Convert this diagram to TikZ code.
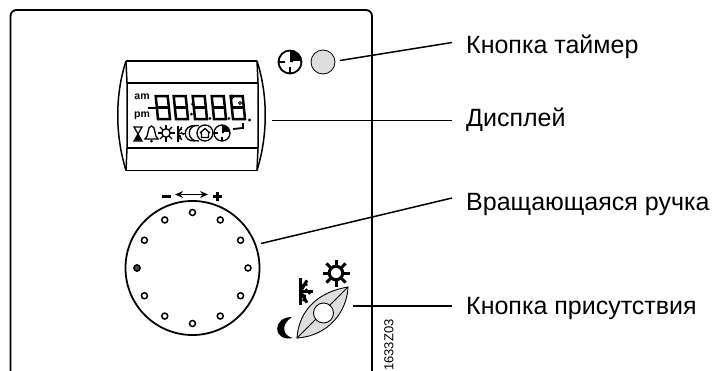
\documentclass[tikz,border=0pt]{standalone}
\usepackage{fontspec}
\setmainfont{Liberation Sans}
\usetikzlibrary{arrows.meta,calc}
\definecolor{btngrey}{gray}{0.87}
\tikzset{
  frameline/.style={line width=1.8pt,line cap=round},
  leader/.style={line width=1.5pt},
  label/.style={anchor=west,inner sep=0pt,font=\fontsize{25}{27}\selectfont},
  seg/.style={line width=2.5pt,line cap=butt},
  knobdot/.style={circle,draw,line width=1.5pt,minimum size=6pt,inner sep=0pt,fill=white},
  iconline/.style={line width=1.3pt},
  dispedge/.style={line width=1.5pt}
}
\newcommand{\segdigit}[2]{%
 \begin{scope}[shift={(#1,#2)},xslant=-.1]
  \draw[seg] (0,0) rectangle (12,-23);
  \draw[seg] (0,-11.5) -- (12,-11.5);
 \end{scope}}
\newcommand{\sunicon}[4]{%
 \begin{scope}[shift={(#1,#2)}]
  \draw[line width=#4] (0,0) circle (#3*.5);
  \foreach \a in {0,45,...,315} \draw[line width=#4] (\a:#3*.5) -- (\a:#3);
 \end{scope}}
\newcommand{\snowicon}[4]{%
 \begin{scope}[shift={(#1,#2)}]
  \draw[line width=#4] (0,-#3) -- (0,#3);
  \foreach \a in {-60,0,60} {\draw[line width=#4] (0,0) -- (\a:#3*.95);}
  \foreach \a in {-60,0,60} {\draw[line width=#4*.8] (\a:#3*.55) ++(\a+45:#3*.25) -- ++(\a+225:#3*.5);}
 \end{scope}}
\newcommand{\clockicon}[4]{%
 \begin{scope}[shift={(#1,#2)}]
  \fill (0,0) -- (0,-#3) .. controls (#3*.55,-#3) and (#3,-#3*.55) .. (#3,0) -- cycle;
  \draw[line width=#4] (0,0) circle (#3);
  \draw[line width=#4] (-#3,0) -- (-#3*.45,0) (0,#3) -- (0,#3*.45);
  \draw[line width=#4,white] (#3*.25,0) -- (#3*.85,0);
 \end{scope}}
\begin{document}
\begin{tikzpicture}[x=1pt,y=-1pt]
\useasboundingbox (0,0) rectangle (713,370);
% housing
\draw[frameline,rounded corners=6pt] (10.5,375) -- (10.5,10) -- (372,10) -- (372,375);
% display
\draw[dispedge] (126,61) -- (257,61) (126,170.5) -- (257,170.5);
\draw[dispedge] (126,61) .. controls (115,95) and (115,135) .. (126,170.5);
\draw[dispedge] (257,61) .. controls (268,95) and (268,135) .. (257,170.5);
\draw[dispedge] (126,61) -- (127,83) -- (127,148) -- (126,170.5);
\draw[dispedge] (257,61) -- (258,83) -- (258,148) -- (257,170.5);
\draw[dispedge] (127,83) -- (258,83) (127,148) -- (258,148);
% readout
\node[inner sep=0pt,font=\fontsize{10.5}{10}\selectfont\bfseries] (am) at (142,97) {am};
\node[inner sep=0pt,font=\fontsize{10.5}{10}\selectfont\bfseries] (pm) at (142,116) {pm};
\draw[seg] (148,108) -- (157,108);
\segdigit{158}{119}
\segdigit{176}{119}
\segdigit{195}{119}
\segdigit{214}{119}
\segdigit{233}{119}
\fill (192.5,104) circle (1.5) (191.5,114) circle (1.5);
\fill (209.8,118.5) circle (1.5) (228.8,118.5) circle (1.5) (249.5,120) circle (1.7);
\draw[line width=1pt] (232,97) circle (1.8) (240,103) circle (1.5);
% icons row
\draw[iconline] (134,127) -- (142,127) -- (134,141) -- (142,141) -- cycle;
\fill (138,134) -- (135,140.5) -- (141,140.5) -- cycle;
\draw[iconline] (145,139) .. controls (149,137) and (147,126) .. (151.5,126) .. controls (156,126) and (154,137) .. (158,139) -- cycle;
\fill (151.5,141) circle (1.5);
\sunicon{166}{133}{8.5}{1.4pt}
\snowicon{178}{133.5}{8}{1.3pt}
\draw[iconline] (199,125.5) .. controls (186,124) and (186,142) .. (199,141) (195,125.5) .. controls (182,125) and (182,142) .. (195,141);
\draw[iconline] (205,133) circle (8);
\draw[iconline] (200,133) -- (205,128.5) -- (210,133) (201.5,132) -- (201.5,137.5) -- (208.5,137.5) -- (208.5,132);
\clockicon{222}{133}{8}{1.3pt}
\draw[line width=1.8pt] (233,129) -- (243,128) -- (243,123);
% timer icon and button
\clockicon{290}{62}{11.5}{1.8pt}
\node[circle,draw,line width=.8pt,fill=btngrey,minimum size=24pt,inner sep=0pt] (btn) at (323,62) {};
\coordinate (btnend) at (340,60.5);
% knob
\node[circle,draw,line width=1.8pt,minimum size=134pt,inner sep=0pt] (knob) at (192.5,268) {};
\foreach \a in {0,30,...,330} \node[knobdot] at ($(192.5,268)+(\a:55.5)$) {};
\node[circle,fill=black!70,minimum size=6pt,inner sep=0pt,draw,line width=1.3pt] at (137,268) {};
\draw[line width=3pt] (162,196) -- (171,196) (212.5,196) -- (221.5,196) (217,191.5) -- (217,200.5);
\draw[{Stealth[length=8pt,width=7pt]}-{Stealth[length=8pt,width=7pt]},line width=1.5pt] (175,194.5) -- (208,194.5);
% presence button
\path[draw,fill=btngrey,line width=.9pt] (297,338) .. controls (299,310) and (318,292) .. (348,287) .. controls (347,312) and (328,336) .. (297,338) -- cycle;
\draw[line width=.9pt] (297,338) -- (348,287);
\node[circle,draw,fill=white,line width=.9pt,minimum size=20pt,inner sep=0pt] (pres) at (323.5,313) {};
\coordinate (presend) at (353,306);
\sunicon{336}{273}{13.5}{3pt}
\snowicon{300.5}{291.5}{13.5}{3pt}
\fill (292,317) .. controls (272,317) and (272,342) .. (293,338) .. controls (283,336) and (280,325) .. (292,317) -- cycle;
% code
\node[rotate=90,anchor=west,inner sep=0pt,font=\fontsize{13}{13}\selectfont] (code) at (389,371) {1633Z03};
% labels
\node[label] (l1) at (466,47) {Кнопка таймер};
\node[label] (l2) at (466,120) {Дисплей};
\node[label] (l3) at (466,204) {Вращающаяся ручка};
\node[label] (l4) at (466,308) {Кнопка присутствия};
\coordinate (e1) at (452,42.5);
\coordinate (e2) at (452,120.5);
\coordinate (e3) at (452,198);
\coordinate (e4) at (452,306);
\coordinate (s2) at (272,120.5);
\coordinate (s3) at (261,243.5);
\draw[leader] (btnend) -- (e1);
\draw[leader] (s2) -- (e2);
\draw[leader] (s3) -- (e3);
\draw[leader] (presend) -- (e4);
\end{tikzpicture}
\end{document}
